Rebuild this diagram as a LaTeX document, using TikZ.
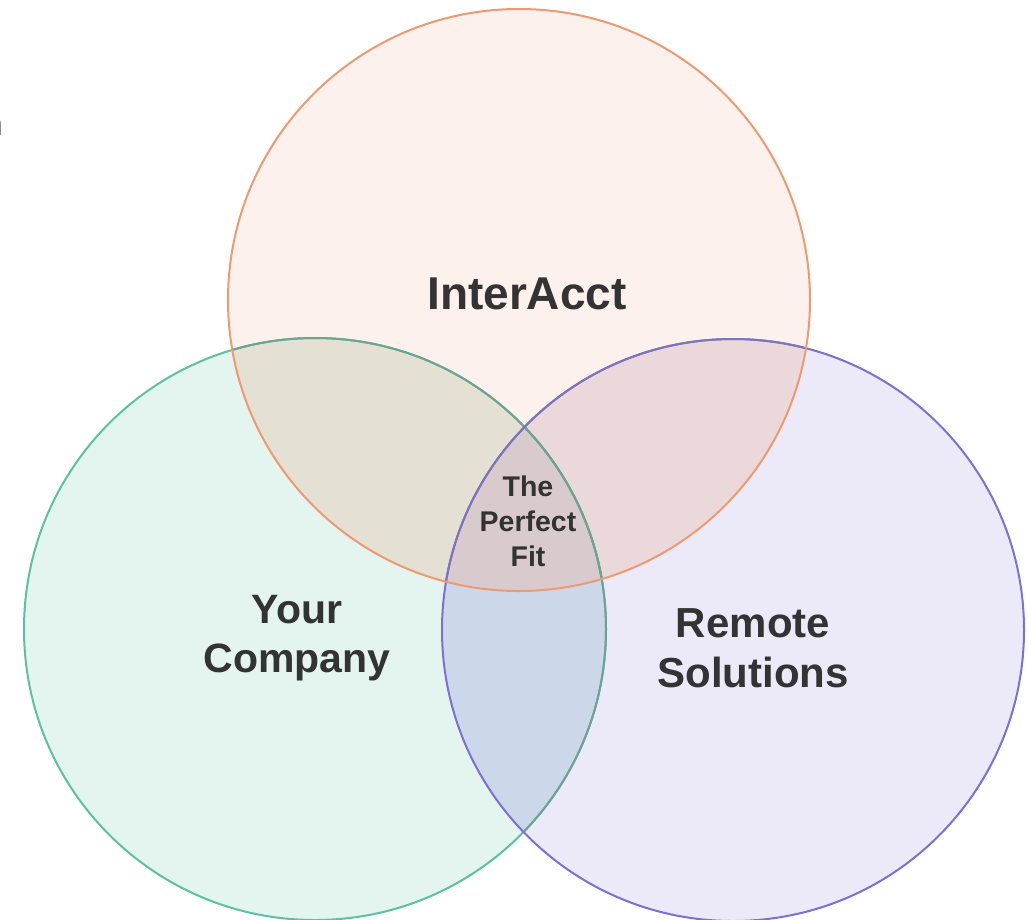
\documentclass[tikz,border=0pt]{standalone}
\usepackage{fontspec}
\setmainfont{Liberation Sans}
\definecolor{topfill}{HTML}{FCF1EC}
\definecolor{leftfill}{HTML}{E4F5F0}
\definecolor{rightfill}{HTML}{ECEAF9}
\definecolor{tlfill}{HTML}{E4E0D4}
\definecolor{trfill}{HTML}{EBD8DB}
\definecolor{lrfill}{HTML}{CCD8E9}
\definecolor{cfill}{HTML}{D9CACD}
\definecolor{topline}{HTML}{EE9A70}
\definecolor{leftline}{HTML}{5CC19F}
\definecolor{rightline}{HTML}{7B6FD8}
\definecolor{txt}{HTML}{333333}
\tikzset{
  ring/.style={line width=2pt},
  label/.style={text=txt, font=\bfseries, align=center, inner sep=0pt, anchor=north},
}
\begin{document}
\begin{tikzpicture}[x=1pt,y=-1pt]
\useasboundingbox (0,0) rectangle (1028,919);
\def\R{291}
\coordinate (T) at (519,300);
\coordinate (L) at (315,629);
\coordinate (Rc) at (733,630);
% base fills
\fill[topfill] (T) circle (\R);
\fill[leftfill] (L) circle (\R);
\fill[rightfill] (Rc) circle (\R);
% pairwise overlaps
\begin{scope}\clip (T) circle (\R); \fill[tlfill] (L) circle (\R); \end{scope}
\begin{scope}\clip (T) circle (\R); \fill[trfill] (Rc) circle (\R); \end{scope}
\begin{scope}\clip (L) circle (\R); \fill[lrfill] (Rc) circle (\R); \end{scope}
\begin{scope}\clip (L) circle (\R); \clip (Rc) circle (\R); \fill[cfill] (T) circle (\R); \end{scope}
% outlines
\draw[ring, leftline] (L) circle (\R);
\begin{scope}\clip (Rc) circle (\R); \draw[ring, leftline!60!lrfill!80!black] (L) circle (\R); \end{scope}
\begin{scope}\clip (T) circle (\R); \draw[ring, leftline!55!gray] (L) circle (\R); \end{scope}
\draw[ring, rightline] (Rc) circle (\R);
\begin{scope}\clip (T) circle (\R); \draw[ring, rightline!65!gray] (Rc) circle (\R); \end{scope}
\draw[ring, topline] (T) circle (\R);
% labels
\node[label, font=\bfseries\fontsize{46}{54}\selectfont] (inter) at (527,278) {InterAcct};
\node[label, font=\bfseries\fontsize{41}{49}\selectfont] (your) at (297,595) {Your\\Company};
\node[label, font=\bfseries\fontsize{42}{50}\selectfont] (remote) at (753,608) {Remote\\Solutions};
\node[label, font=\bfseries\fontsize{28.5}{35}\selectfont] (fit) at (528,476) {The\\Perfect\\Fit};
\node[text=black, font=\fontsize{33}{40}\selectfont, inner sep=0pt, anchor=base east] (frag) at (3,135) {n};
\end{tikzpicture}
\end{document}
